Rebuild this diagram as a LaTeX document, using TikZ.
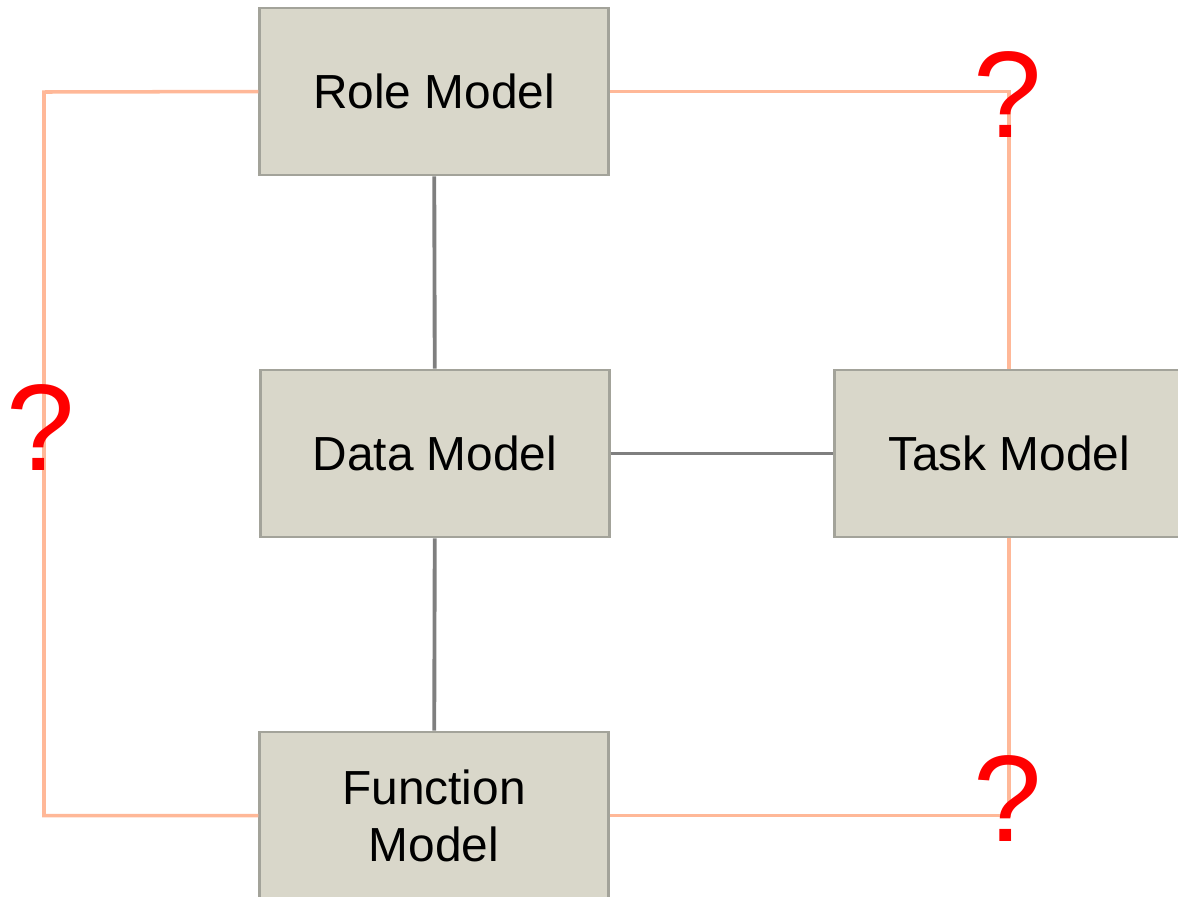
\documentclass[tikz,border=0pt]{standalone}
\usepackage{fontspec}
\setmainfont{Liberation Sans}
\usetikzlibrary{positioning}
\usetikzlibrary{calc}

\definecolor{boxfill}{HTML}{D9D7CA}
\definecolor{boxline}{HTML}{A3A39A}
\definecolor{peach}{HTML}{FFB898}
\definecolor{linkgray}{HTML}{7F7F7F}

\begin{document}
\begin{tikzpicture}[x=0.01cm,y=-0.01cm]
		
		\tikzset{model/.style = {shape=rectangle,draw=boxline,line width=0.8pt,fill=boxfill,minimum width=3.48cm,minimum height=1.67cm,align=center,font=\fontsize{13.6}{16.2}\selectfont}}
		\tikzset{plain/.style = {draw=linkgray,line width=1.1pt}}
		\tikzset{doubt/.style = {draw=peach,line width=1pt}}
		\tikzset{ask/.style = {text=red,font=\fontsize{35}{35}\selectfont,inner sep=0pt}}
		
		\useasboundingbox (0,0) rectangle (1178,896);
		\clip (0,0) rectangle (1178,896);
		
		% vertices
		\node[model] (role) at (434,91.5) {Role Model};
		\node[model] (data) at (435,453.5) {Data Model};
		\node[model] (task) at (1009,453.5) {Task Model};
		\node[model] (func) at (434,815.5) {Function\\Model};
		
		\coordinate (lc) at (44,92);
		
		%edges
		\draw[plain] (role) -- (data);
		
		\draw[plain] (data) -- (func);
		
		\draw[plain] (data) -- (task);
		
		\draw[doubt] (role.west) -- (lc) |- (func.west);
		
		\draw[doubt] (role.east) -| (task.north);
		
		\draw[doubt] (func.east) -| (task.south);
		
		% question marks
		\node[ask] (q1) at (41,428) {?};
		\node[ask] (q2) at (1008,95) {?};
		\node[ask] (q3) at (1008,799) {?};
		
		\end{tikzpicture}
\end{document}
